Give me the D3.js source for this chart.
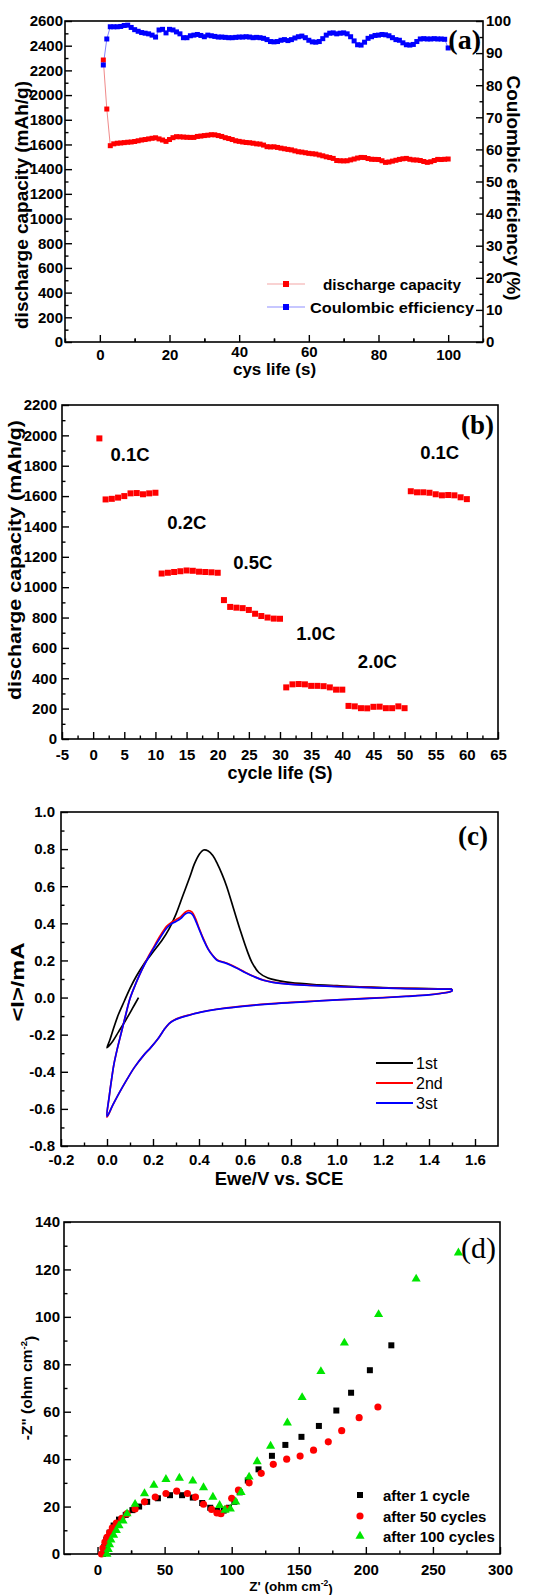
<!DOCTYPE html>
<html><head><meta charset="utf-8">
<script src="https://cdn.jsdelivr.net/npm/d3@7"></script>
<style>body{margin:0;background:#fff}</style>
</head><body><svg id="c" width="543" height="1595"></svg>
<script>
// ---------------- DATA ----------------
// (a) cycling: discharge capacity (mAh/g) and Coulombic efficiency (%)
const capA = [2284,1887,1590,1605,1610,1612,1615,1618,1620,1624,
  1630,1636,1640,1645,1650,1654,1645,1636,1625,1640,
  1655,1663,1662,1660,1658,1657,1657,1665,1668,1672,
  1675,1679,1678,1672,1665,1655,1648,1640,1630,1625,
  1620,1616,1614,1610,1605,1603,1595,1582,1580,1581,
  1576,1570,1565,1560,1556,1548,1541,1538,1533,1528,
  1525,1522,1515,1508,1500,1494,1487,1470,1468,1467,
  1468,1475,1482,1490,1495,1494,1486,1480,1479,1478,
  1468,1455,1458,1465,1472,1479,1484,1487,1480,1475,
  1474,1470,1462,1455,1460,1470,1479,1478,1480,1482];
const ceA = [86.3,94.4,98.2,98.2,98.2,98.3,98.6,98.7,98.0,97.3,
  96.8,96.4,96.2,96.0,95.6,95.0,97.2,97.4,96.3,97.4,
  97.2,96.6,96.0,94.8,94.8,95.4,95.6,95.8,95.5,95.1,
  95.6,95.4,95.2,95.0,95.0,94.9,94.8,94.8,94.9,95.0,
  95.0,95.1,95.0,94.8,94.9,94.8,94.6,94.2,93.6,93.5,
  93.6,94.0,94.2,93.9,94.2,94.7,95.1,95.3,94.8,94.0,
  93.5,93.4,93.6,94.5,95.6,96.2,96.3,96.0,96.2,96.3,
  96.0,95.1,93.8,92.6,92.5,93.4,94.6,95.1,95.5,95.6,
  95.8,95.7,95.4,94.8,94.2,94.0,93.2,92.6,92.5,92.7,
  93.6,94.4,94.5,94.4,94.4,94.5,94.4,94.4,94.3,91.6];
const cyclesA = d3.range(1, capA.length + 1);
const aXTicks = [0,20,40,60,80,100];
const aYTicks = [0,200,400,600,800,1000,1200,1400,1600,1800,2000,2200,2400,2600];
const aY2Ticks = [0,10,20,30,40,50,60,70,80,90,100];
const aLegend = ["discharge capacity","Coulombic efficiency"];

// (b) rate capability
const capB = [1980,
  1578,1582,1590,1600,1618,1620,1612,1618,1622,
  1090,1095,1100,1105,1110,1108,1102,1100,1098,1095,
  915,870,865,862,850,825,810,800,793,792,
  340,360,362,360,350,350,348,340,325,325,
  218,215,203,202,212,213,203,203,215,203,
  1632,1625,1625,1622,1612,1605,1607,1605,1592,1580];
const cyclesB = d3.range(1, capB.length + 1);
const bXTicks = [-5,0,5,10,15,20,25,30,35,40,45,50,55,60,65];
const bYTicks = [0,200,400,600,800,1000,1200,1400,1600,1800,2000,2200];
const rateLabels = ["0.1C","0.2C","0.5C","1.0C","2.0C","0.1C"];
const rateLabelAt = [[2.8,1830],[11.9,1385],[22.5,1120],[32.6,655],[42.5,470],[52.5,1845]]; // data coords (cycle, mAh/g)

// (c) cyclic voltammetry  [V, mA]
const cv1 = [[0.137,0.0],[0.11,-0.06],[0.08,-0.125],[0.05,-0.185],[0.025,-0.235],[0.0,-0.27],[0.012,-0.23],[0.03,-0.16],[0.05,-0.09],[0.075,-0.02],[0.10,0.05],[0.13,0.12],[0.16,0.18],[0.20,0.245],[0.24,0.31],[0.27,0.37],[0.30,0.45],[0.33,0.55],[0.36,0.65],[0.38,0.72],[0.40,0.77],[0.42,0.795],[0.44,0.79],[0.46,0.765],[0.48,0.72],[0.50,0.665],[0.52,0.6],[0.55,0.48],[0.58,0.36],[0.61,0.25],[0.63,0.19],[0.66,0.135],[0.70,0.105],[0.75,0.09],[0.80,0.08],[0.90,0.07],[1.0,0.064],[1.1,0.058],[1.2,0.054],[1.3,0.05],[1.4,0.048],[1.5,0.046]];
const cv2 = [[1.5,0.046],[1.5,0.036],[1.45,0.023],[1.4,0.015],[1.3,0.007],[1.2,0.0],[1.1,-0.006],[1.0,-0.012],[0.9,-0.019],[0.8,-0.026],[0.7,-0.034],[0.6,-0.045],[0.5,-0.059],[0.42,-0.075],[0.36,-0.093],[0.32,-0.107],[0.29,-0.122],[0.27,-0.14],[0.25,-0.17],[0.22,-0.225],[0.19,-0.27],[0.16,-0.31],[0.12,-0.375],[0.085,-0.445],[0.055,-0.51],[0.025,-0.58],[0.0,-0.645],[0.01,-0.53],[0.02,-0.44],[0.03,-0.36],[0.045,-0.275],[0.062,-0.19],[0.08,-0.1],[0.10,-0.005],[0.125,0.075],[0.15,0.145],[0.175,0.21],[0.20,0.265],[0.23,0.33],[0.26,0.385],[0.28,0.405],[0.30,0.42],[0.32,0.435],[0.34,0.46],[0.355,0.468],[0.37,0.46],[0.385,0.425],[0.40,0.375],[0.42,0.315],[0.44,0.262],[0.46,0.227],[0.48,0.202],[0.51,0.19],[0.54,0.175],[0.57,0.157],[0.60,0.137],[0.64,0.113],[0.68,0.094],[0.72,0.083],[0.8,0.072],[0.9,0.065],[1.0,0.06],[1.1,0.056],[1.2,0.052],[1.3,0.049],[1.4,0.047],[1.5,0.046]];
const cv3 = [[1.5,0.045],[1.5,0.035],[1.45,0.022],[1.4,0.014],[1.3,0.006],[1.2,-0.001],[1.1,-0.007],[1.0,-0.013],[0.9,-0.02],[0.8,-0.027],[0.7,-0.035],[0.6,-0.046],[0.5,-0.06],[0.42,-0.076],[0.36,-0.094],[0.32,-0.108],[0.29,-0.123],[0.27,-0.14],[0.25,-0.17],[0.22,-0.225],[0.19,-0.27],[0.16,-0.31],[0.12,-0.375],[0.085,-0.445],[0.055,-0.51],[0.025,-0.58],[0.0,-0.64],[0.01,-0.53],[0.02,-0.44],[0.03,-0.36],[0.045,-0.275],[0.062,-0.19],[0.08,-0.1],[0.10,-0.005],[0.125,0.075],[0.15,0.145],[0.175,0.205],[0.20,0.26],[0.23,0.32],[0.26,0.375],[0.28,0.398],[0.30,0.41],[0.32,0.425],[0.34,0.45],[0.355,0.458],[0.37,0.45],[0.385,0.415],[0.40,0.37],[0.42,0.31],[0.44,0.26],[0.46,0.225],[0.48,0.2],[0.51,0.188],[0.54,0.173],[0.57,0.155],[0.60,0.135],[0.64,0.112],[0.68,0.093],[0.72,0.082],[0.8,0.071],[0.9,0.064],[1.0,0.059],[1.1,0.055],[1.2,0.051],[1.3,0.048],[1.4,0.046],[1.5,0.045]];
const cvNames = ["1st","2nd","3st"];
const cXTicks = [-0.2,0.0,0.2,0.4,0.6,0.8,1.0,1.2,1.4,1.6];
const cYTicks = [-0.8,-0.6,-0.4,-0.2,0.0,0.2,0.4,0.6,0.8,1.0];

// (d) Nyquist plots [Z', -Z'']
const eis1 = [[4,0],[5,3],[6.5,6],[9,9],[12,12],[16,14.5],[21,16.5],[26,18.5],[31,20],[37,22],[45,23.5],[54,24.8],[63,24.8],[71,23.8],[78,21.5],[84,19.5],[89,18.2],[94,18.3],[98,19.5],[102,22],[106,26],[112,31],[120,35.7],[130,41.4],[140,46],[152,49.4],[165,54],[178,60.5],[189,68],[203,77.5],[219,88]];
const eis50 = [[3,0],[4,2.5],[5.5,5],[7,7],[9,9],[11,11],[14,13],[18,15],[22,17],[28,19],[35,22],[43,24],[51,25.5],[59,26.5],[67,25.5],[73,24],[79,21],[85,18.8],[89,17.3],[92,17],[96,19],[100,23.5],[105,27],[113,30],[122,34],[131,37.8],[141,40],[151,41.3],[161,43.8],[172,47.3],[182,52],[195,57.5],[209,62]];
const eis100 = [[7,0],[8,2],[9,4],[10,6],[12,8],[14,10],[16,12],[19,14],[22,17],[28,21],[35,25.5],[42,29],[51,31.5],[61,32],[71,30.8],[79,28],[86,24],[91,20.5],[95,18.5],[99,19],[103,22],[107,26],[113,32.5],[119,39],[129,45.5],[141.5,55.3],[152.5,66],[166.5,77],[184,89],[209.5,101],[237.5,116],[269,127]];
const eisNames = ["after 1 cycle","after 50 cycles","after 100 cycles"];
const dXTicks = [0,50,100,150,200,250,300];
const dYTicks = [0,20,40,60,80,100,120,140];

// ---------------- DRAWING ----------------
const svg = d3.select("#c");
const SANS = "'Liberation Sans', Arial, Helvetica, sans-serif";
const SERIF = "'Liberation Serif', 'Times New Roman', serif";

function styleAxis(s) {
  s.select(".domain").remove();
  s.attr("font-family", SANS).attr("font-size", 15).attr("font-weight", "bold");
  s.selectAll("line").attr("stroke", "#000").attr("stroke-width", 1.4);
  s.selectAll("text").attr("fill", "#000");
}
function minorOf(ticks) {
  const out = [];
  for (let i = 0; i < ticks.length - 1; i++) out.push((ticks[i] + ticks[i + 1]) / 2);
  return out;
}
function panel(p) {
  const x = d3.scaleLinear().domain(p.xd).range([p.l, p.r]);
  const y = d3.scaleLinear().domain(p.yd).range([p.b, p.t]);
  const g = svg.append("g");
  g.append("g").attr("transform", `translate(0,${p.b})`)
    .call(d3.axisBottom(x).tickValues(minorOf(p.xt)).tickSize(-3.5).tickFormat("")).call(styleAxis);
  const xa = g.append("g").attr("class", "xmajor").attr("transform", `translate(0,${p.b})`)
    .call(d3.axisBottom(x).tickValues(p.xt).tickSize(-7).tickPadding(p.xPad).tickFormat(p.xf)).call(styleAxis);
  g.append("g").attr("transform", `translate(${p.l},0)`)
    .call(d3.axisLeft(y).tickValues(minorOf(p.yt)).tickSize(-3.5).tickFormat("")).call(styleAxis);
  g.append("g").attr("transform", `translate(${p.l},0)`)
    .call(d3.axisLeft(y).tickValues(p.yt).tickSize(-7).tickPadding(p.yPad).tickFormat(p.yf)).call(styleAxis);
  const frame = () => g.append("rect").attr("x", p.l).attr("y", p.t).attr("width", p.r - p.l).attr("height", p.b - p.t)
    .attr("fill", "none").attr("stroke", "#000").attr("stroke-width", 1.6);
  return { x, y, g, frame, xa };
}
function vTitle(text, cx, cy, size, len, rot) {
  const t = svg.append("text").attr("transform", `translate(${cx},${cy}) rotate(${rot || -90})`)
    .attr("text-anchor", "middle").attr("dy", "0.35em")
    .attr("font-family", SANS).attr("font-weight", "bold").attr("font-size", size).text(text);
  if (len) t.attr("textLength", len).attr("lengthAdjust", "spacingAndGlyphs");
  return t;
}
function hTitle(text, cx, by, size) {
  return svg.append("text").attr("x", cx).attr("y", by).attr("text-anchor", "middle")
    .attr("font-family", SANS).attr("font-weight", "bold").attr("font-size", size).text(text);
}
function letter(text, rx, by, size, weight) {
  svg.append("text").attr("x", rx).attr("y", by).attr("text-anchor", "end")
    .attr("font-family", SERIF).attr("font-weight", weight).attr("font-size", size).text(text);
}
const intFmt = d => String(d);
const f1 = d => (Math.abs(d) < 1e-9 ? 0 : d).toFixed(1);

// ----- (a) -----
{
  const p = panel({ l: 65, r: 483, t: 21, b: 342, xd: [-10, 110], yd: [0, 2600],
    xt: aXTicks, yt: aYTicks, xPad: 7, yPad: 2, xf: intFmt, yf: intFmt });
  // labels 40 and 60 sit a little higher, as in the original
  p.xa.selectAll(".tick").filter(d => d === 40 || d === 60).select("text").attr("y", 4);
  p.g.append("g").attr("transform", `translate(0,342)`)
    .call(d3.axisBottom(p.x).tickValues([-10,10,30,50,70,90,110]).tickSize(-3.5).tickFormat("")).call(styleAxis);
  const y2 = d3.scaleLinear().domain([0, 100]).range([342, 21]);
  p.g.append("g").attr("transform", `translate(483,0)`)
    .call(d3.axisRight(y2).tickValues(minorOf(aY2Ticks)).tickSize(-3.5).tickFormat("")).call(styleAxis);
  p.g.append("g").attr("transform", `translate(483,0)`)
    .call(d3.axisRight(y2).tickValues(aY2Ticks).tickSize(-7).tickPadding(3).tickFormat(intFmt)).call(styleAxis);
  p.frame();
  const lr = d3.line().x((d, i) => p.x(cyclesA[i])).y(d => p.y(d));
  const lb = d3.line().x((d, i) => p.x(cyclesA[i])).y(d => y2(d));
  p.g.append("path").attr("d", lr(capA)).attr("fill", "none").attr("stroke", "#f08a8a").attr("stroke-width", 1);
  p.g.append("path").attr("d", lb(ceA)).attr("fill", "none").attr("stroke", "#7f7fff").attr("stroke-width", 1);
  const s = 5;
  p.g.selectAll(".ra").data(capA).join("rect").attr("x", (d, i) => p.x(cyclesA[i]) - s / 2).attr("y", d => p.y(d) - s / 2)
    .attr("width", s).attr("height", s).attr("fill", "#f00");
  p.g.selectAll(".ba").data(ceA).join("rect").attr("x", (d, i) => p.x(cyclesA[i]) - s / 2).attr("y", d => y2(d) - s / 2)
    .attr("width", s).attr("height", s).attr("fill", "#00f");
  // legend
  const legY = [284, 307], legC = ["#f00", "#00f"], legL = ["#f4a6a6", "#8f8fff"], legX = [323, 310], legLen = [138, 164];
  aLegend.forEach((name, i) => {
    svg.append("line").attr("x1", 267).attr("x2", 305).attr("y1", legY[i]).attr("y2", legY[i]).attr("stroke", legL[i]).attr("stroke-width", 1.2);
    svg.append("rect").attr("x", 283).attr("y", legY[i] - 3).attr("width", 6).attr("height", 6).attr("fill", legC[i]);
    svg.append("text").attr("x", legX[i]).attr("y", legY[i] + 5.5).attr("font-family", SANS).attr("font-weight", "bold")
      .attr("font-size", 15.5).attr("textLength", legLen[i]).attr("lengthAdjust", "spacingAndGlyphs").text(name);
  });
  vTitle("discharge capacity (mAh/g)", 22, 205, 18, 248);
  vTitle("Coulombic efficiency (%)", 513, 188, 18, 225, 90);
  hTitle("cys life (s)", 274.5, 375, 17);
  letter("(a)", 481, 49, 28, "bold");
}

// ----- (b) -----
{
  const p = panel({ l: 62, r: 498, t: 405, b: 739, xd: [-5, 65], yd: [0, 2200],
    xt: bXTicks, yt: bYTicks, xPad: 10, yPad: 5, xf: intFmt, yf: intFmt });
  p.frame();
  const s = 6;
  p.g.selectAll(".rb").data(capB).join("rect").attr("x", (d, i) => p.x(cyclesB[i]) - s / 2).attr("y", d => p.y(d) - s / 2)
    .attr("width", s).attr("height", s).attr("fill", "#f00");
  rateLabels.forEach((t, i) => {
    svg.append("text").attr("x", p.x(rateLabelAt[i][0])).attr("y", p.y(rateLabelAt[i][1]))
      .attr("font-family", SANS).attr("font-weight", "bold").attr("font-size", 18.5).text(t);
  });
  vTitle("discharge capacity (mAh/g)", 15, 560, 18, 280);
  hTitle("cycle life (S)", 280, 779, 18);
  letter("(b)", 494, 434, 27, "bold");
}

// ----- (c) -----
{
  const p = panel({ l: 61, r: 498, t: 812, b: 1146, xd: [-0.2, 1.7], yd: [-0.8, 1.0],
    xt: cXTicks, yt: cYTicks, xPad: 8.5, yPad: 6, xf: f1, yf: f1 });
  p.frame();
  const line = d3.line().x(d => p.x(d[0])).y(d => p.y(d[1])).curve(d3.curveCatmullRom.alpha(0.5));
  const cols = ["#000", "#f00", "#00f"];
  [cv1, cv2, cv3].forEach((c, i) => {
    p.g.append("path").attr("d", line(c)).attr("fill", "none").attr("stroke", cols[i]).attr("stroke-width", 1.7);
  });
  const ly = [1063, 1083, 1103];
  cvNames.forEach((n, i) => {
    svg.append("line").attr("x1", 376).attr("x2", 413).attr("y1", ly[i]).attr("y2", ly[i]).attr("stroke", cols[i]).attr("stroke-width", 1.8);
    svg.append("text").attr("x", 416).attr("y", ly[i] + 6).attr("font-family", SANS).attr("font-size", 16).text(n);
  });
  vTitle("<I>/mA", 18, 982, 18, 79);
  hTitle("Ewe/V vs. SCE", 279, 1185, 18.5);
  letter("(c)", 488, 845, 27, "bold");
}

// ----- (d) -----
{
  const p = panel({ l: 64, r: 500, t: 1222, b: 1554, xd: [-25, 300], yd: [0, 140],
    xt: dXTicks, yt: dYTicks, xPad: 10, yPad: 4, xf: intFmt, yf: intFmt });
  p.g.append("g").attr("transform", `translate(0,1554)`)
    .call(d3.axisBottom(p.x).tickValues([25]).tickSize(-3.5).tickFormat("")).call(styleAxis);
  p.frame();
  const sq = d3.symbol().type(d3.symbolSquare).size(36)();
  const ci = d3.symbol().type(d3.symbolCircle).size(40)();
  const tr = d3.symbol().type(d3.symbolTriangle).size(36)();
  const sets = [[eis1, sq, "#000"], [eis50, ci, "#f00"], [eis100, tr, "#00e600"]];
  sets.forEach(([data, sym, col]) => {
    p.g.append("g").selectAll("path").data(data).join("path").attr("d", sym)
      .attr("transform", d => `translate(${p.x(d[0])},${p.y(d[1])})`).attr("fill", col);
  });
  const ly = [1495, 1516, 1536];
  eisNames.forEach((n, i) => {
    svg.append("path").attr("d", sets[i][1]).attr("transform", `translate(360,${ly[i]})`).attr("fill", sets[i][2]);
    svg.append("text").attr("x", 383).attr("y", ly[i] + 5.5).attr("font-family", SANS).attr("font-weight", "bold")
      .attr("font-size", 15).text(n);
  });
  const yt = svg.append("text").attr("transform", "translate(27,1388) rotate(-90)").attr("text-anchor", "middle")
    .attr("dy", "0.35em").attr("font-family", SANS).attr("font-weight", "bold").attr("font-size", 15.5);
  yt.append("tspan").text("-Z\" (ohm cm");
  yt.append("tspan").attr("font-size", 9.5).attr("dy", "-0.6em").text("-2");
  yt.append("tspan").attr("dy", "0.6em").text(")");
  const xt = svg.append("text").attr("x", 291).attr("y", 1591).attr("text-anchor", "middle")
    .attr("font-family", SANS).attr("font-weight", "bold").attr("font-size", 13.5);
  xt.append("tspan").text("Z' (ohm cm");
  xt.append("tspan").attr("font-size", 8.5).attr("dy", "-0.6em").text("-2");
  xt.append("tspan").attr("dy", "0.5em").text(")");
  letter("(d)", 496, 1258, 30, "normal");
}
</script></body></html>
